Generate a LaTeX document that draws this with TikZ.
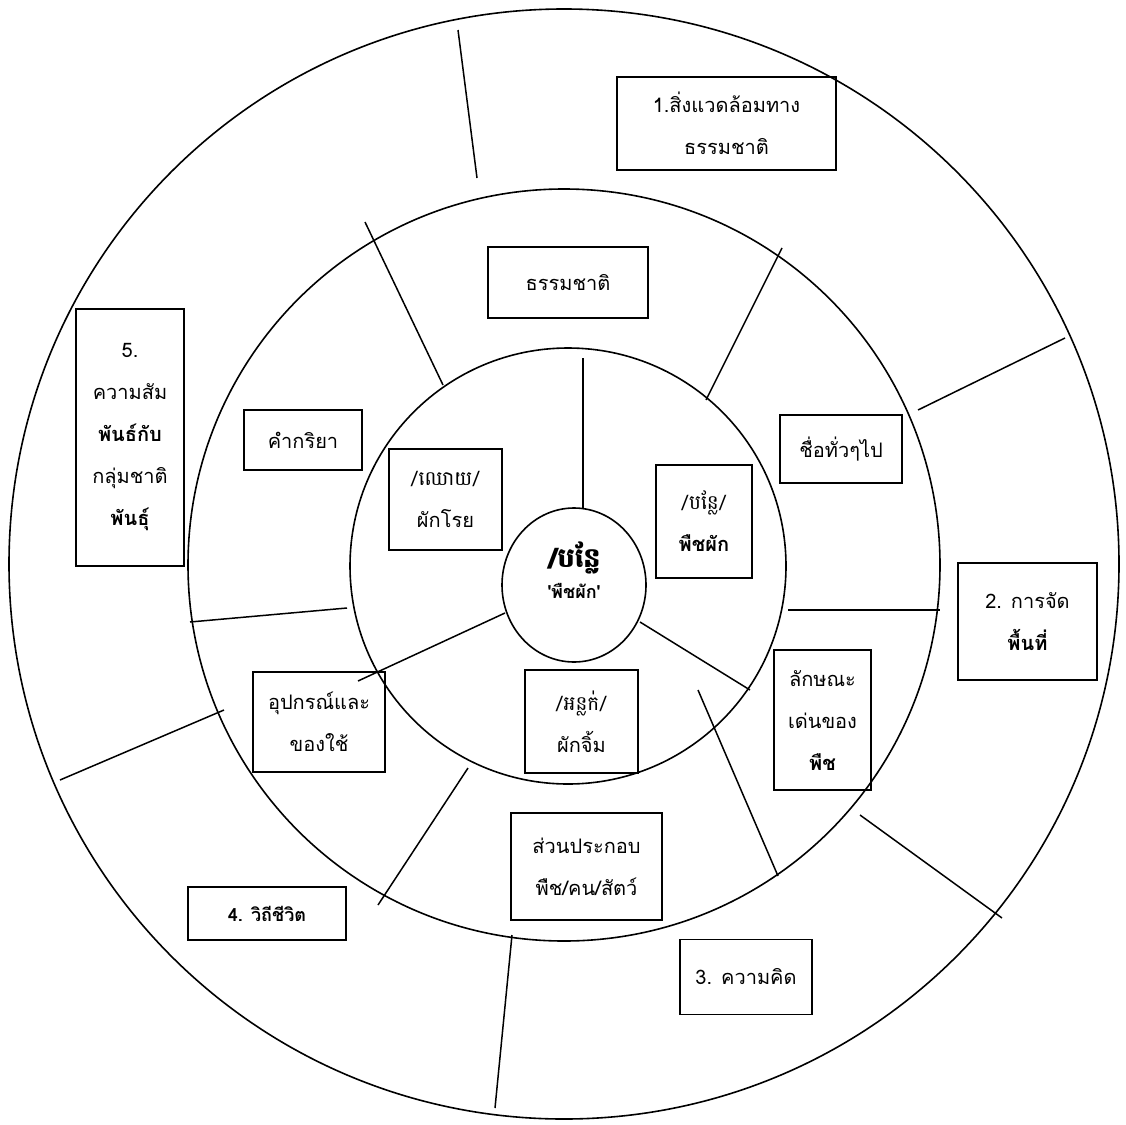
\documentclass[tikz,border=0pt]{standalone}
\usepackage{fontspec}
\usetikzlibrary{shapes.geometric}
\newfontfamily\thai[Script=Thai]{Loma}
\newfontfamily\khmer[Script=Khmer]{Battambang}
\begin{document}
\begin{tikzpicture}[x=1pt,y=-1pt,
  ring/.style={line width=1.6pt},
  divider/.style={line width=1.5pt},
  tbox/.style={draw,line width=1.7pt,align=center,inner sep=0pt,
    font=\thai\fontsize{20}{42}\selectfont},
  kbox/.style={tbox,font=\fontsize{20}{42}\selectfont}]
\useasboundingbox[fill=white] (0,0) rectangle (1126,1124);
% circles
\draw[ring] (564,564) circle[radius=555];
\draw[ring] (564,565) circle[radius=376];
\draw[ring] (568,566) circle[radius=218];
\node[draw,ring,ellipse,minimum width=144,minimum height=154,inner sep=0pt] (core) at (574,585) {};
% inner ring dividers
\draw[divider] (583,358) -- (583,508);
\draw[divider] (640,622) -- (750,690);
\draw[divider] (505,613) -- (358,681);
% middle ring dividers
\draw[divider] (365,222) -- (443,385);
\draw[divider] (782,248) -- (706,400);
\draw[divider] (788,610) -- (940,610);
\draw[divider] (698,690) -- (778,876);
\draw[divider] (468,768) -- (378,905);
\draw[divider] (190,622) -- (347,608);
% outer ring dividers
\draw[divider] (458,30) -- (477,178);
\draw[divider] (918,410) -- (1065,338);
\draw[divider] (860,815) -- (1002,918);
\draw[divider] (512,935) -- (495,1108);
\draw[divider] (60,780) -- (224,710);
% center text
\node[align=center] (coretext) at (574,570)
  {{\khmer\bfseries\fontsize{27}{30}\selectfont /បន្លែ}\\[8pt]
   {\thai\bfseries\fontsize{18}{22}\selectfont 'พืชผัก'}};
% outer boxes
\node[tbox,minimum width=219,minimum height=93] (b1) at (726.5,123.5) {1.สิ่งแวดล้อมทาง\\ธรรมชาติ};
\node[tbox,minimum width=139,minimum height=117] (b2) at (1027.5,621.5) {2. การจัด\\{\bfseries พื้นที่}};
\node[tbox,minimum width=132,minimum height=75] (b3) at (746,977) {3. ความคิด};
\node[tbox,minimum width=158,minimum height=53,font=\thai\bfseries\fontsize{18}{22}\selectfont] (b4) at (267,913.5) {4. วิถีชีวิต};
\node[tbox,minimum width=108,minimum height=257] (b5) at (130,437.5) {5.\\ความสัม\\{\bfseries พันธ์กับ}\\กลุ่มชาติ\\{\bfseries พันธุ์}};
% middle ring boxes
\node[tbox,minimum width=160,minimum height=71] (bn) at (568,282.5) {ธรรมชาติ};
\node[tbox,minimum width=118,minimum height=60] (bv) at (303,440) {คำกริยา};
\node[tbox,minimum width=122,minimum height=68] (bg) at (841,449) {ชื่อทั่วๆไป};
\node[tbox,minimum width=97,minimum height=140] (bc) at (822.5,720) {ลักษณะ\\เด่นของ\\{\bfseries พืช}};
\node[tbox,minimum width=151,minimum height=107] (bp) at (586.5,866.5) {ส่วนประกอบ\\พืช/คน/สัตว์};
\node[tbox,minimum width=132,minimum height=100] (bt) at (319,722) {อุปกรณ์และ\\ของใช้};
% inner ring boxes
\node[kbox,minimum width=113,minimum height=103] (ka) at (581.5,721.5) {{\khmer /អន្លក់/}\\{\thai ผักจิ้ม}};
\node[kbox,minimum width=113,minimum height=101] (kr) at (445.5,499.5) {{\khmer /ឈោយ/}\\{\thai ผักโรย}};
\node[kbox,minimum width=96,minimum height=113] (kb) at (704,521.5) {{\khmer /បន្លែ/}\\{\thai\bfseries พืชผัก}};
\end{tikzpicture}
\end{document}
